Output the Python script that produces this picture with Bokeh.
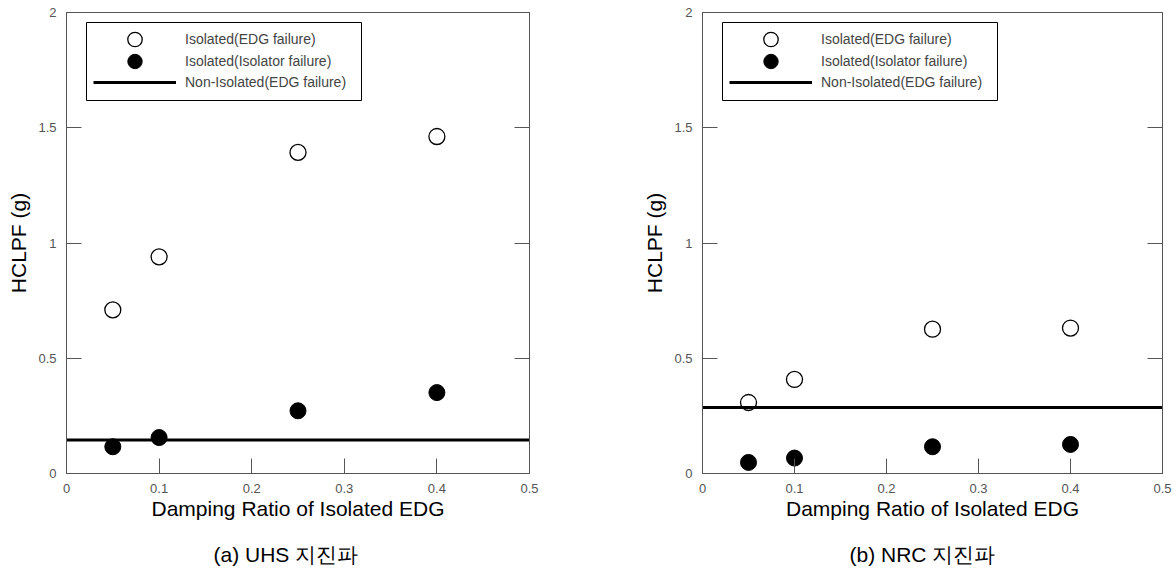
from bokeh.plotting import figure
from bokeh.models import (Range1d, LinearAxis, FixedTicker, Legend, LegendItem,
                          BoxAnnotation, Label)
from bokeh.layouts import row, column
from bokeh.embed import file_html
from bokeh.resources import INLINE

# ---- data ----
damping = [0.05, 0.1, 0.25, 0.4]
uhs_edg = [0.71, 0.94, 1.393, 1.462]
uhs_isolator = [0.116, 0.156, 0.272, 0.351]
uhs_nonisolated = 0.145
nrc_edg = [0.308, 0.408, 0.626, 0.631]
nrc_isolator = [0.048, 0.067, 0.116, 0.126]
nrc_nonisolated = 0.286

x_ticks = [0, 0.1, 0.2, 0.3, 0.4, 0.5]
x_tick_labels = ["0", "0.1", "0.2", "0.3", "0.4", "0.5"]
y_ticks = [0, 0.5, 1, 1.5, 2]
y_tick_labels = ["0", "0.5", "1", "1.5", "2"]
series_labels = ["Isolated(EDG failure)", "Isolated(Isolator failure)",
                 "Non-Isolated(EDG failure)"]
captions = ["(a) UHS 지진파", "(b) NRC 지진파"]
x_title = "Damping Ratio of Isolated EDG"
y_title = "HCLPF (g)"

FONT = "Liberation Sans"
AX = "#555555"
PLOT_H = 523        # height of each chart (caption strip below it)
CAP_H = 569 - PLOT_H
FRAME_BOTTOM = 473  # canvas y of the plot frame's bottom edge


def one_item_legend(label, renderer, glyph_h, center_y):
    # single-row legend; its border is drawn separately by a BoxAnnotation
    return Legend(items=[LegendItem(label=label, renderers=[renderer])],
                  location=(27, FRAME_BOTTOM - center_y - glyph_h / 2),
                  padding=0, spacing=0,
                  glyph_width=83, glyph_height=glyph_h, label_height=glyph_h,
                  label_standoff=9, label_text_font=FONT,
                  label_text_font_size="14px", border_line_alpha=0,
                  background_fill_alpha=0)


def make_panel(edg, iso, nonval, bl, br):
    p = figure(width=588, height=PLOT_H, output_backend="svg", toolbar_location=None,
               x_range=Range1d(x_ticks[0], x_ticks[-1]),
               y_range=Range1d(y_ticks[0], y_ticks[-1]),
               min_border_left=bl, min_border_right=br,
               min_border_top=12, min_border_bottom=PLOT_H - FRAME_BOTTOM,
               x_axis_label=x_title, y_axis_label=y_title)
    p.grid.visible = False
    p.outline_line_color = AX
    p.outline_line_width = 1

    for ax, ticks, labels in ((p.xaxis[0], x_ticks, x_tick_labels),
                              (p.yaxis[0], y_ticks, y_tick_labels)):
        ax.ticker = FixedTicker(ticks=ticks)
        ax.major_label_overrides = {t: l for t, l in zip(ticks, labels)}
        ax.major_tick_in = 15
        ax.major_tick_out = 0
        ax.minor_tick_in = 0
        ax.minor_tick_out = 0
        ax.axis_line_color = AX
        ax.major_tick_line_color = AX
        ax.major_label_text_font = FONT
        ax.major_label_text_font_size = "13px"
        ax.major_label_text_color = "#555555"
        ax.major_label_standoff = 10
        ax.axis_label_text_font = FONT
        ax.axis_label_text_font_size = "21px"
        ax.axis_label_text_font_style = "normal"
        ax.axis_label_text_color = "black"
    p.xaxis[0].axis_label_standoff = 1
    p.yaxis[0].axis_label_standoff = 5

    rax = LinearAxis(ticker=FixedTicker(ticks=y_ticks), major_tick_in=15,
                     major_tick_out=0, minor_tick_in=0, minor_tick_out=0,
                     axis_line_color=AX, major_tick_line_color=AX,
                     major_label_overrides={t: "" for t in y_ticks},
                     major_label_standoff=0)
    p.add_layout(rax, "right")

    r_open = p.scatter(damping, edg, size=16, marker="circle", fill_color="white",
                       line_color="black", line_width=1.3)
    r_fill = p.scatter(damping, iso, size=16, marker="circle", fill_color="black",
                       line_color="black")
    r_line = p.line([x_ticks[0], x_ticks[-1]], [nonval, nonval], line_color="black",
                    line_width=3)

    box = BoxAnnotation(left=20, right=295, top=FRAME_BOTTOM - 22,
                        bottom=FRAME_BOTTOM - 100,
                        left_units="screen", right_units="screen",
                        top_units="screen", bottom_units="screen",
                        fill_color="white", fill_alpha=1.0,
                        line_color="black", line_width=1, line_alpha=1.0)
    p.add_layout(box)

    p.add_layout(one_item_legend(series_labels[0], r_open, 36, 39))
    p.add_layout(one_item_legend(series_labels[1], r_fill, 36, 61))
    p.add_layout(one_item_legend(series_labels[2], r_line, 22, 82))
    return p


def make_caption(caption, left_px):
    c = figure(width=588, height=CAP_H, output_backend="svg", toolbar_location=None,
               x_axis_type=None, y_axis_type=None, min_border=0)
    c.grid.visible = False
    c.outline_line_color = None
    c.add_layout(Label(text=caption, x=left_px, y=15,
                       x_units="screen", y_units="screen",
                       text_align="left", text_baseline="middle",
                       text_font=FONT, text_font_size="21px",
                       text_color="black"))
    return c


p1 = make_panel(uhs_edg, uhs_isolator, uhs_nonisolated, 66, 59)
p2 = make_panel(nrc_edg, nrc_isolator, nrc_nonisolated, 114, 14)
c1 = make_caption(captions[0], 66 + 147)
c2 = make_caption(captions[1], 114 + 147)

layout = column(row(p1, p2), row(c1, c2))
open("out.html", "w").write(file_html(layout, INLINE))
